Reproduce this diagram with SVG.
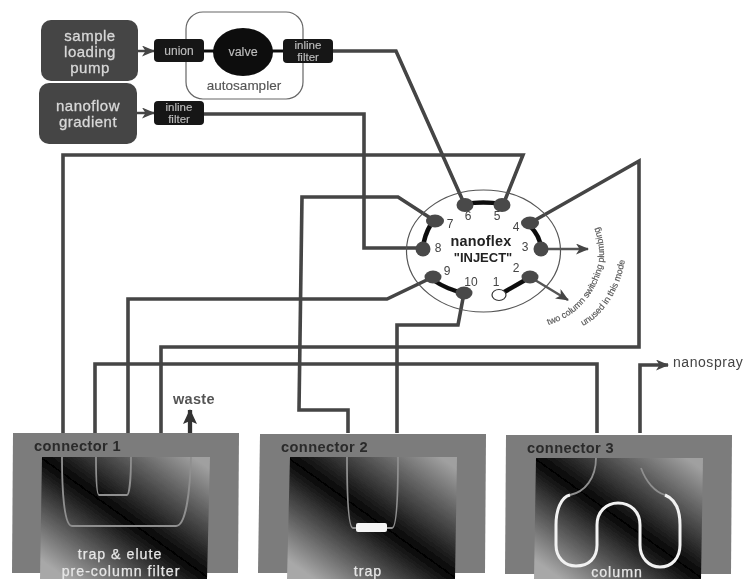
<svg xmlns="http://www.w3.org/2000/svg" width="748" height="579" viewBox="0 0 748 579">
<defs>
<style>
text{font-family:"Liberation Sans",Arial,sans-serif}
.pump{fill:#454545}
.pt{fill:#d8d8d8;font-size:15px;text-anchor:middle;letter-spacing:.5px;stroke:#d8d8d8;stroke-width:.3px}
.box{fill:#151515}
.bt{fill:#bdbdbd;text-anchor:middle;font-size:11.5px;stroke:#bdbdbd;stroke-width:.15px}
.conn{fill:#7b7b7b}
.ct{fill:#2b2b2b;font-size:14.6px;font-weight:bold;letter-spacing:.4px}
.it{fill:#e6e6e6;font-size:14.2px;text-anchor:middle;letter-spacing:1px;stroke:#e6e6e6;stroke-width:.25px}
.w{fill:none;stroke:#444;stroke-width:3.6;stroke-linejoin:miter}
.k{fill:none;stroke:#0c0c0c;stroke-width:4.5}
.port{fill:#4a4a4a}
.pn{fill:#444;font-size:12px;text-anchor:middle}
.tube{fill:none;stroke:#8f8f8f;stroke-width:1.8}
.coil{fill:none;stroke:#f2f2f2;stroke-width:3}
.cv{fill:#555;font-size:9px;stroke:#555;stroke-width:.15px}
</style>
<linearGradient id="g" x1="0" y1="1" x2="1" y2="0">
<stop offset=".08" stop-color="#a8a8a8"/><stop offset=".5" stop-color="#050505"/><stop offset=".95" stop-color="#a0a0a0"/>
</linearGradient>
<marker id="a" markerWidth="13" markerHeight="11" refX="12" refY="5.500" orient="auto" markerUnits="userSpaceOnUse">
<path d="M0 0L13 5.500L0 11L3.500 5.500Z" fill="#444"/>
</marker>
<marker id="a2" markerWidth="16" markerHeight="14" refX="14" refY="7" orient="auto" markerUnits="userSpaceOnUse">
<path d="M0 0L15 7L0 14L3 7Z" fill="#333"/>
</marker>
<filter id="b" x="-2%" y="-2%" width="104%" height="104%"><feGaussianBlur stdDeviation=".55"/></filter>
<path id="c1" d="M548 325C572 318 594 300 603 265C606 248 602 232 595 219"/>
<path id="c2" d="M583 326C604 315 627 285 626 240"/>
</defs>
<rect width="748" height="579" fill="#fff"/>
<g filter="url(#b)">
<g id="connector-1"><path class="conn" d="M13 433H239L238 573H12Z"/><path d="M42 457H210L207 579H40Z" fill="url(#g)"/><text class="ct" x="34" y="451">connector 1</text>
<path class="tube" d="M62 457C62 490 64 526 72 526H176C186 526 190 490 191 457"/><path class="tube" d="M96 457C96 480 97 495 99 495H127C129 495 131 480 131 457"/>
<text class="it" x="120" y="559">trap &amp; elute</text><text class="it" x="121" y="576">pre-column filter</text></g>
<g id="connector-2"><path class="conn" d="M260 434H486L485 573H258Z"/><path d="M290 457H457L455 579H287Z" fill="url(#g)"/><text class="ct" x="281" y="452">connector 2</text>
<path class="tube" d="M347 457C347 490 348 528 353 528H392C397 528 398 490 398 457"/><rect x="356" y="523" width="31" height="9" rx="2" fill="#f4f4f4"/><text class="it" x="368" y="576">trap</text></g>
<g id="connector-3"><path class="conn" d="M506 435H732L731 574H505Z"/><path d="M536 458H703L701 579H534Z" fill="url(#g)"/><text class="ct" x="527" y="453">connector 3</text>
<path class="tube" d="M596 458C596 478 585 492 570 495"/><path class="tube" d="M641 468C646 482 655 492 665 495"/>
<path class="coil" d="M570 495C561 497 556 510 556 525V545C556 558 565 566 576 566C589 566 597 558 597 545V525C597 512 606 503 618 503C631 503 640 512 640 525V545C640 558 649 567 660 567C672 567 680 558 680 545V525C680 510 675 499 665 495"/>
<text class="it" x="617" y="577">column</text></g>
<g id="connectors">
<path class="w" d="M333 51H396L463 201"/>
<path class="w" d="M204 114H364V248H423"/>
<path class="w" d="M63 433V155H523L503 205"/>
<path class="w" d="M435 221L398 197H302L299 410H348V433"/>
<path class="w" d="M433 277L387 299H128V433"/>
<path class="w" d="M95 433V364H597V433"/>
<path class="w" d="M161 433V347H639V161L530 223"/>
<path class="w" d="M464 293L458 325H397V433"/>
<path class="w" d="M640 433V365H668" marker-end="url(#a)"/>
<path d="M541 249H588" fill="none" stroke="#555" stroke-width="2.400" marker-end="url(#a)"/>
<path d="M530 277L568 300" fill="none" stroke="#555" stroke-width="2.400" marker-end="url(#a)"/>
<path d="M190 433V410" fill="none" stroke="#333" stroke-width="4.300" marker-end="url(#a2)"/>
<path d="M138 51H154" fill="none" stroke="#444" stroke-width="2.500" marker-end="url(#a)"/>
<path d="M137 113H154" fill="none" stroke="#444" stroke-width="2.500" marker-end="url(#a)"/>
<path d="M204 51H283" fill="none" stroke="#111" stroke-width="3"/>
</g>
<g id="sample-loading-pump"><rect class="pump" x="41" y="20" width="97" height="61" rx="10"/><text class="pt" x="90" y="41">sample</text><text class="pt" x="90" y="57">loading</text><text class="pt" x="90" y="73">pump</text></g>
<g id="nanoflow-gradient"><rect class="pump" x="39" y="83" width="98" height="61" rx="10"/><text class="pt" x="88" y="111">nanoflow</text><text class="pt" x="88" y="127">gradient</text></g>
<g id="autosampler"><rect x="186" y="12" width="117" height="87" rx="17" fill="none" stroke="#666" stroke-width="1.200"/><text x="244" y="90" fill="#555" font-size="13.500" text-anchor="middle" stroke="#555" stroke-width=".15">autosampler</text></g>
<g id="valve"><ellipse cx="243" cy="52" rx="30" ry="24" fill="#0c0c0c"/><text class="bt" x="243" y="56" style="font-size:12.500px">valve</text></g>
<g id="union"><rect class="box" x="154" y="39" width="50" height="23" rx="4"/><text class="bt" x="179" y="55" style="font-size:12px">union</text></g>
<g id="inline-filter-1"><rect class="box" x="283" y="39" width="50" height="24" rx="4"/><text class="bt" x="308" y="49">inline</text><text class="bt" x="308" y="61">filter</text></g>
<g id="inline-filter-2"><rect class="box" x="154" y="101" width="50" height="24" rx="4"/><text class="bt" x="179" y="111">inline</text><text class="bt" x="179" y="123">filter</text></g>
<g id="nanoflex">
<ellipse cx="483.500" cy="251" rx="77" ry="61" fill="none" stroke="#555" stroke-width="1.200"/>
<path class="k" d="M465 204Q483 201 502 204M431 224Q424 236 423 248M530 226Q540 236 541 248M433 280Q448 290 464 293M499 295L527 279"/>
<ellipse class="port" cx="465" cy="205" rx="8.500" ry="7"/><ellipse class="port" cx="502" cy="205" rx="8.500" ry="7"/><ellipse class="port" cx="435" cy="221" rx="9" ry="6.500"/><ellipse class="port" cx="530" cy="223" rx="9" ry="6.500"/><circle class="port" cx="423" cy="249" r="7.500"/><circle class="port" cx="541" cy="249" r="7.500"/><ellipse class="port" cx="433" cy="277" rx="8.500" ry="6.500"/><ellipse class="port" cx="530" cy="277" rx="8.500" ry="6.500"/><ellipse class="port" cx="464" cy="293" rx="8.500" ry="6.500"/>
<ellipse cx="499" cy="295" rx="7" ry="5.500" fill="#fff" stroke="#333" stroke-width="1.200"/>
<text class="pn" x="468" y="220">6</text><text class="pn" x="497" y="220">5</text><text class="pn" x="450" y="228">7</text><text class="pn" x="516" y="231">4</text><text class="pn" x="438" y="252">8</text><text class="pn" x="525" y="251">3</text><text class="pn" x="447" y="275">9</text><text class="pn" x="471" y="286">10</text><text class="pn" x="516" y="272">2</text><text class="pn" x="496" y="286">1</text>
<text x="481" y="246" fill="#222" font-size="14.400" font-weight="bold" text-anchor="middle" letter-spacing=".2">nanoflex</text>
<text x="483" y="262" fill="#222" font-size="13" font-weight="bold" text-anchor="middle">"INJECT"</text>
</g>
<text class="cv"><textPath href="#c1">two column switching plumbing</textPath></text>
<text class="cv"><textPath href="#c2">unused in this mode</textPath></text>
<text x="173" y="404" fill="#555" font-size="14.500" font-weight="bold" letter-spacing=".3">waste</text>
<text x="673" y="367" fill="#444" font-size="14" letter-spacing=".55">nanospray</text>
</g>
</svg>
